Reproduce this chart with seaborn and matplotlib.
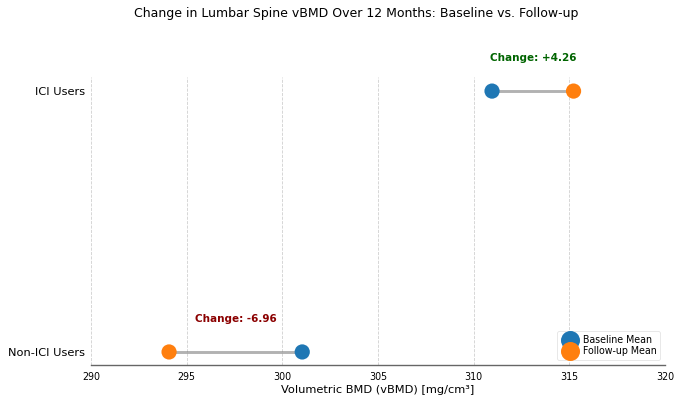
import numpy as np
import pandas as pd
import matplotlib
matplotlib.use("Agg")
import matplotlib.pyplot as plt
import seaborn as sns

groups = ["Non-ICI Users", "ICI Users"]
baseline = [301.04, 310.96]
followup = [294.08, 315.22]
changes = [-6.96, 4.26]
xticks = [290, 295, 300, 305, 310, 315, 320]

sns.set_style("white")
plt.rcParams['font.family'] = ['DejaVu Sans']
plt.rcParams['text.color'] = 'black'
plt.rcParams['axes.labelcolor'] = 'black'
plt.rcParams['xtick.labelcolor'] = 'black'
plt.rcParams['ytick.labelcolor'] = 'black'

fig = plt.figure(figsize=(6.85, 4.07), dpi=100)
ax = fig.add_axes([91/685, 1-365/407, (665-91)/685, (365-77)/407])

ypos = np.arange(len(groups))
for y, b, f in zip(ypos, baseline, followup):
    ax.plot([b, f], [y, y], color="grey", alpha=0.6, lw=2.1, zorder=1)

df = pd.DataFrame({
    "group": groups * 2,
    "y": list(ypos) * 2,
    "value": baseline + followup,
    "series": ["Baseline Mean"] * 2 + ["Follow-up Mean"] * 2,
})
sns.scatterplot(data=df, x="value", y="y", hue="series",
                palette=["#1f77b4", "#ff7f0e"], s=120, edgecolor="none",
                ax=ax, zorder=3)

for y, b, f, c in zip(ypos, baseline, followup, changes):
    color = "darkgreen" if c > 0 else "darkred"
    ax.text((b + f) / 2, y + 0.125, f"Change: {c:+.2f}", ha="center", va="center",
            color=color, fontweight="bold", fontsize=7.5)

ax.set_yticks(ypos)
ax.set_yticklabels(groups, fontsize=8.2)
ax.set_xlim(290, 320)
ax.set_ylim(-0.05, 1.054)
ax.set_xticks(xticks)
ax.set_xticklabels([str(t) for t in xticks], fontsize=6.85)
ax.set_xlabel("Volumetric BMD (vBMD) [mg/cm³]", fontsize=8.2, labelpad=2)
ax.set_ylabel("")
ax.grid(axis="x", linestyle="--", color="#bbbbbb", alpha=0.7, lw=0.6)
ax.grid(axis="y", visible=False)
for s in ["left", "top", "right"]:
    ax.spines[s].set_visible(False)
ax.spines["bottom"].set_color("#666666")
ax.spines["bottom"].set_linewidth(1.0)
ax.tick_params(axis="x", length=3, width=0.6, color="#666666", pad=2)
ax.tick_params(axis="y", length=0, pad=4)

leg = ax.legend(loc="lower right", fontsize=6.85, frameon=True, markerscale=1.25,
                handletextpad=0.3, borderpad=0.4, labelspacing=0.15)
leg.get_frame().set_edgecolor("#dddddd")
leg.get_frame().set_linewidth(0.6)

fig.text(356.5/685, 1-14/407, "Change in Lumbar Spine vBMD Over 12 Months: Baseline vs. Follow-up",
         ha="center", va="center", fontsize=9.0)

fig.savefig("out.png", dpi=100)
